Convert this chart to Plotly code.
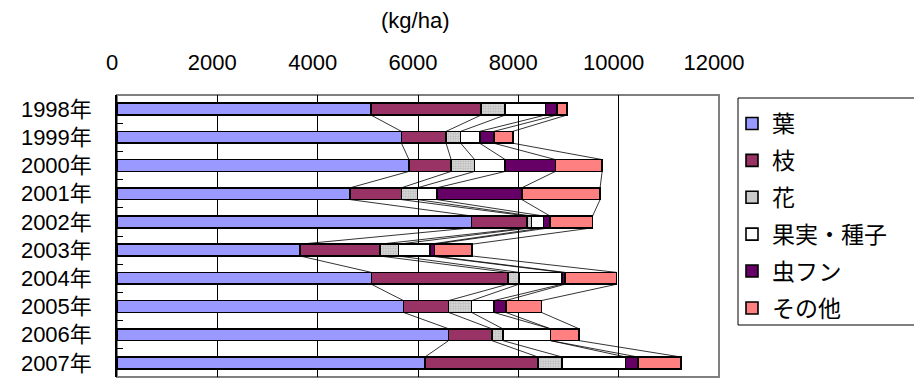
import numpy as np
import plotly.graph_objects as go

# Biomass of litter components per year (kg/ha)
years = ["1998年", "1999年", "2000年", "2001年", "2002年",
         "2003年", "2004年", "2005年", "2006年", "2007年"]
leaf = [5060, 5670, 5820, 4650, 7070, 3650, 5070, 5710, 6610, 6140]
branch = [2200, 890, 840, 1020, 1100, 1590, 2720, 900, 860, 2250]
flower = [480, 290, 470, 320, 90, 370, 220, 460, 220, 480]
fruit_seed = [800, 380, 610, 390, 240, 630, 860, 440, 950, 1270]
frass = [230, 280, 1000, 1690, 130, 90, 60, 240, 0, 240]
other = [200, 380, 930, 1560, 850, 750, 1030, 710, 570, 860]

series_names = ["葉", "枝", "花", "果実・種子", "虫フン", "その他"]
series_values = [leaf, branch, flower, fruit_seed, frass, other]
series_colors = ["#9999FF", "#993366", "#D0D0D0", "#FFFFFF", "#660066", "#FF8080"]

x_ticks = [0, 2000, 4000, 6000, 8000, 10000, 12000]

FONT = "Liberation Sans, Arial, Noto Sans CJK JP, sans-serif"
BAR_W = 0.42

ypos = np.arange(len(years))

fig = go.Figure()

for name, vals, col in zip(series_names, series_values, series_colors):
    marker = dict(color=col, line=dict(color="black", width=1.6))
    if name == "花":
        marker["pattern"] = dict(shape=".", fgcolor="#909090", bgcolor="#D8D8D8",
                                 size=2.5, solidity=0.4)
    fig.add_trace(go.Bar(
        x=vals, y=ypos, orientation="h", name=name, width=BAR_W,
        marker=marker, legendgroup=name,
    ))

# Series lines joining each segment's end between neighbouring bars
cum = np.cumsum(np.array(series_values, dtype=float), axis=0)
lx, ly = [], []
for s in range(cum.shape[0]):
    for i in range(len(years) - 1):
        lx += [cum[s, i], cum[s, i + 1], None]
        ly += [ypos[i] + BAR_W / 2, ypos[i + 1] - BAR_W / 2, None]
fig.add_trace(go.Scatter(x=lx, y=ly, mode="lines", showlegend=False,
                         line=dict(color="black", width=0.8), hoverinfo="skip"))

L, R, T, B = 117, 195, 95, 2
W, H = 914, 379
pw, ph = W - L - R, H - T - B


def px_x(p):
    return (p - L) / pw


def px_y(p):
    return 1 - (p - T) / ph


fig.update_layout(
    width=W, height=H,
    margin=dict(l=L, r=R, t=T, b=B),
    barmode="stack",
    paper_bgcolor="white", plot_bgcolor="white",
    font=dict(family=FONT, size=21, color="black"),
    showlegend=True,
    legend=dict(
        x=px_x(732), y=px_y(102), xanchor="left", yanchor="top",
        bgcolor="rgba(0,0,0,0)", borderwidth=0,
        font=dict(family=FONT, size=23),
        tracegroupgap=4, itemwidth=30,
        traceorder="grouped",
    ),
    xaxis=dict(
        side="top", range=[0, 12000], tickvals=x_ticks,
        ticktext=[str(v) for v in x_ticks],
        showgrid=True, gridcolor="black", gridwidth=1,
        zeroline=False, showline=False, ticks="",
        tickfont=dict(family=FONT, size=22),
        ticklabelstandoff=20, ticklabelshift=-5,
    ),
    yaxis=dict(
        range=[len(years) - 0.5, -0.5],
        tickmode="array", tickvals=list(ypos), ticktext=years,
        showgrid=False, zeroline=False,
        showline=True, linecolor="black", linewidth=1.5,
        ticks="", tickfont=dict(family=FONT, size=22),
        ticklabelstandoff=19,
        minor=dict(tickmode="array", tickvals=list(ypos[:-1] + 0.5),
                   ticks="inside", ticklen=6, tickcolor="black", tickwidth=1,
                   showgrid=False),
    ),
    shapes=[
        # plot area frame
        dict(type="rect", xref="paper", yref="paper", x0=0, x1=1, y0=0, y1=1,
             line=dict(color="#808080", width=2), layer="below"),
        # legend frame
        dict(type="rect", xref="paper", yref="paper",
             x0=px_x(738), x1=px_x(930), y0=px_y(325), y1=px_y(98),
             line=dict(color="black", width=1), fillcolor="rgba(0,0,0,0)"),
    ],
    annotations=[
        dict(text="(kg/ha)", xref="paper", yref="paper",
             x=px_x(415), y=px_y(21), xanchor="center", yanchor="middle",
             showarrow=False, font=dict(family=FONT, size=22)),
    ],
)

fig.write_html("out.html")
